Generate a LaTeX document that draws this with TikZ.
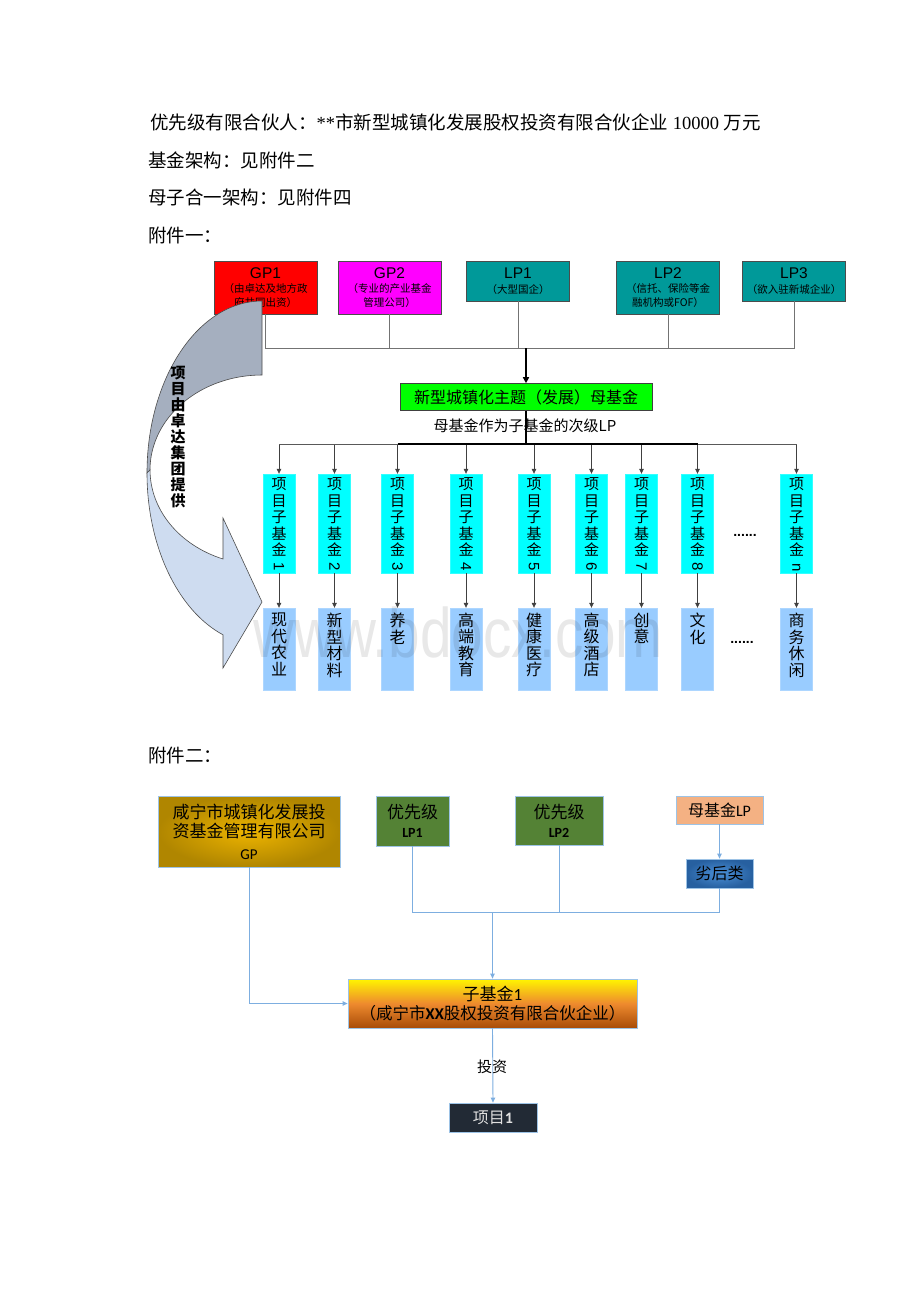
\documentclass[tikz,border=0pt]{standalone}
\usepackage{fontspec}
\usepackage{graphicx}
\setmainfont{Noto Sans CJK SC}
\newfontfamily\arialf{Liberation Sans}
\newfontfamily\lserif{Liberation Serif}
\newfontfamily\carl{Carlito}
\usetikzlibrary{arrows.meta,calc}
\newcommand\fsz[1]{\fontsize{#1}{#1}\selectfont}
\definecolor{gpred}{HTML}{FF0000}
\definecolor{gpmag}{HTML}{FF00FF}
\definecolor{tealx}{HTML}{009999}
\definecolor{mfgreen}{HTML}{00FF00}
\definecolor{subcyan}{HTML}{00FFFF}
\definecolor{indblue}{HTML}{99CCFF}
\definecolor{arrdark}{HTML}{A5AFBF}
\definecolor{arrlight}{HTML}{CEDCF0}
\definecolor{bblue}{HTML}{7DAEE0}
\definecolor{bbord}{HTML}{9DC3E6}
\definecolor{goldin}{HTML}{EDB400}
\definecolor{goldout}{HTML}{B08600}
\definecolor{lpgreen}{HTML}{548235}
\definecolor{salmonx}{HTML}{F4B183}
\definecolor{lhin}{HTML}{4A8FD6}
\definecolor{lhout}{HTML}{2760A0}
\definecolor{navyx}{HTML}{222A35}
\definecolor{zjtop}{HTML}{FFF500}
\definecolor{zjmid}{HTML}{EE8A2E}
\definecolor{zjbot}{HTML}{A84C08}
\newcommand\subf{\fontsize{10.5}{13.5}\selectfont}
\tikzset{
  topbox/.style={draw=black!70, line width=0.6pt, minimum width=103pt, inner sep=0pt, align=center, font=\subf},
  tline/.style={draw=black!55, line width=0.8pt},
  bline/.style={draw=black, line width=2.2pt},
  tarr/.style={draw=black!75, line width=0.7pt, -{Triangle[length=5pt,width=4.5pt]}},
  subbox/.style={fill=subcyan, draw=subcyan!80!white, line width=0.4pt, minimum width=32pt, minimum height=99pt, inner sep=0pt},
  indbox/.style={fill=indblue, draw=indblue!80!white, line width=0.4pt, minimum width=32pt, minimum height=82pt, inner sep=0pt},
  vtxt/.style={align=center, inner sep=0pt, font=\fontsize{15}{16.4}\selectfont},
  bbox/.style={draw=bbord, line width=0.8pt, inner sep=0pt, align=center},
  bl/.style={draw=bblue, line width=0.9pt},
  barr/.style={draw=bblue, line width=0.9pt, -{Triangle[length=5pt,width=4.5pt]}},
  ptext/.style={anchor=west, inner sep=0pt, font=\fsz{18.5}},
}
\begin{document}
\begin{tikzpicture}[x=1pt,y=-1pt]
\path[use as bounding box, fill=white] (0,0) rectangle (920,1302);

% paragraph text
\node[ptext] (t1) at (150,122) {优先级有限合伙人：{\lserif **}市新型城镇化发展股权投资有限合伙企业{\lserif\ 10000\ }万元};
\node[ptext] (t2) at (148,160) {基金架构：见附件二};
\node[ptext] (t3) at (148,197) {母子合一架构：见附件四};
\node[ptext] (t4) at (148,235) {附件一：};

% ---------- Attachment 1 ----------
\node[topbox, fill=gpred, minimum height=53pt] (GP1) at (265.5,287.5)
  {{\arialf\fsz{15.5}GP1}\\[1pt]（由卓达及地方政\\府共同出资）};
\node[topbox, fill=gpmag, minimum height=53pt] (GP2) at (389.5,287.5)
  {{\arialf\fsz{15.5}GP2}\\[1pt]（专业的产业基金\\管理公司）};
\node[topbox, fill=tealx, minimum height=40pt] (LP1) at (518,281)
  {{\arialf\fsz{15.5}LP1}\\[1pt]（大型国企）};
\node[topbox, fill=tealx, minimum height=53pt] (LP2) at (668,287.5)
  {{\arialf\fsz{15.5}LP2}\\[1pt]（信托、保险等金\\融机构或FOF）};
\node[topbox, fill=tealx, minimum height=40pt] (LP3) at (794,281)
  {{\arialf\fsz{15.5}LP3}\\[1pt]（欲入驻新城企业）};

\coordinate (busy) at (0,348);
\draw[tline] (GP1.south) |- (LP3.south |- busy) -- (LP3.south);
\draw[tline] (GP2.south) -- (GP2.south |- busy);
\draw[tline] (LP1.south) -- (LP1.south |- busy);
\draw[tline] (LP2.south) -- (LP2.south |- busy);

% mother fund
\node[draw=black!75, line width=0.6pt, fill=mfgreen, minimum width=252pt, minimum height=27pt, inner sep=0pt, font=\fsz{16}] (MF) at (526,397) {新型城镇化主题（发展）母基金};
\draw[bline, -{Triangle[length=6pt,width=6pt]}] (MF.north |- busy) -- (MF.north);

\coordinate (hy) at (0,444);
\draw[bline] (MF.south) -- (MF.south |- hy);
\node[font=\fsz{15}, inner sep=0pt] (mlab) at (525,426) {母基金作为子基金的次级LP};

% sub funds and industries
\foreach \i/\x/\d/\t in {1/279/1/{现\\代\\农\\业}, 2/334.5/2/{新\\型\\材\\料}, 3/397.5/3/{养\\老}, 4/466/4/{高\\端\\教\\育}, 5/534/5/{健\\康\\医\\疗}, 6/591.5/6/{高\\级\\酒\\店}, 7/641.5/7/{创\\意}, 8/697.5/8/{文\\化}, 9/796.5/n/{商\\务\\休\\闲}} {
  \node[subbox] (S\i) at (\x,523.5) {};
  \node[vtxt, anchor=north] (S\i t) at ($(S\i.north)+(0,4)$) {项\\目\\子\\基\\金\\\rotatebox[origin=c]{-90}{\arialf\fsz{15}\d}};
  \node[indbox] (B\i) at (\x,649) {};
  \node[vtxt, anchor=north, font=\fontsize{16}{16.5}\selectfont] (B\i t) at ($(B\i.north)+(0,5)$) {\t};
  \coordinate (h\i) at (\x,444);
  \draw[tarr] (h\i) -- (S\i.north);
  \draw[tarr] (S\i.south) -- (B\i.north);
}
\draw[tline, draw=black!65] (h1) -- (h9);
\draw[bline] (h3) -- (h8);
\node[font=\arialf\bfseries\fsz{14}, inner sep=0pt] (dots1) at (745,535) {......};
\node[font=\arialf\bfseries\fsz{14}, inner sep=0pt] (dots2) at (742,642) {......};

% curved arrow
\filldraw[fill=arrdark, draw=black!70, line width=0.6pt]
  (262,301) arc[start angle=270, end angle=180, x radius=115, y radius=172]
  -- (150,470) arc[start angle=180, end angle=270, x radius=112, y radius=95]
  -- cycle;
\filldraw[fill=arrlight, draw=black!70, line width=0.6pt]
  (147,473) arc[start angle=180, end angle=109.8, x radius=115, y radius=172]
  -- (223,668) -- (262,602) -- (223,518) -- (223,559)
  arc[start angle=110.4, end angle=180, x radius=112, y radius=95]
  -- cycle;
\node[align=center, inner sep=0pt, font=\fontsize{15}{15.9}\selectfont\bfseries] (arrtxt) at (178,437) {项\\目\\由\\卓\\达\\集\\团\\提\\供};

% ---------- Attachment 2 ----------
\node[ptext] (t5) at (148,755) {附件二：};

\node[bbox, shading=radial, inner color=goldin, outer color=goldout, minimum width=182pt, minimum height=71pt, font=\fontsize{17}{19}\selectfont] (GP) at (249,831.5)
  {咸宁市城镇化发展投\\资基金管理有限公司\\[3pt]{\carl\fsz{15}GP}};
\node[bbox, fill=lpgreen, minimum width=73pt, minimum height=50pt, font=\fsz{17}] (L1) at (412.5,821)
  {优先级\\[2pt]{\carl\bfseries\fsz{14}LP1}};
\node[bbox, fill=lpgreen, minimum width=88pt, minimum height=49pt, font=\fsz{17}] (L2) at (559,820.5)
  {优先级\\[2pt]{\carl\bfseries\fsz{14}LP2}};
\node[bbox, fill=salmonx, minimum width=87pt, minimum height=28pt, font=\fsz{16}] (MJ) at (719.5,810) {母基金{\carl LP}};
\node[bbox, shading=radial, inner color=lhin, outer color=lhout, minimum width=67pt, minimum height=29pt, font=\fsz{16}] (LH) at (719.5,873.5) {劣后类};
\node[bbox, top color=zjtop, bottom color=zjbot, middle color=zjmid, minimum width=289pt, minimum height=49pt, font=\fsz{16.5}] (ZJ) at (492.5,1003.5)
  {{\fsz{17}子基金{\carl 1}}\\[3pt]（咸宁市{\carl\bfseries XX}股权投资有限合伙企业）};
\node[bbox, fill=navyx, minimum width=88pt, minimum height=29pt, text=black!12, font=\fsz{16}] (XM) at (493,1117.5) {项目{\carl\bfseries 1}};

\coordinate (bus2) at (0,912);
\draw[barr] (MJ.south) -- (LH.north);
\draw[bl] (L1.south) |- (LH.south |- bus2) -- (LH.south);
\draw[bl] (L2.south) -- (L2.south |- bus2);
\draw[barr] (ZJ.north |- bus2) -- (ZJ.north);
\draw[barr] (GP.south) |- (ZJ.west);
\draw[barr] (ZJ.south) -- (XM.north);
\node[font=\fsz{15}, inner sep=0pt] (tz) at (492,1067) {投资};

% watermark
\node[anchor=base, font=\arialf\fsz{70}, text=black, opacity=0.09, xscale=0.81, inner sep=0pt] (wm) at (458,657) {www.bdocx.com};
\end{tikzpicture}
\end{document}
